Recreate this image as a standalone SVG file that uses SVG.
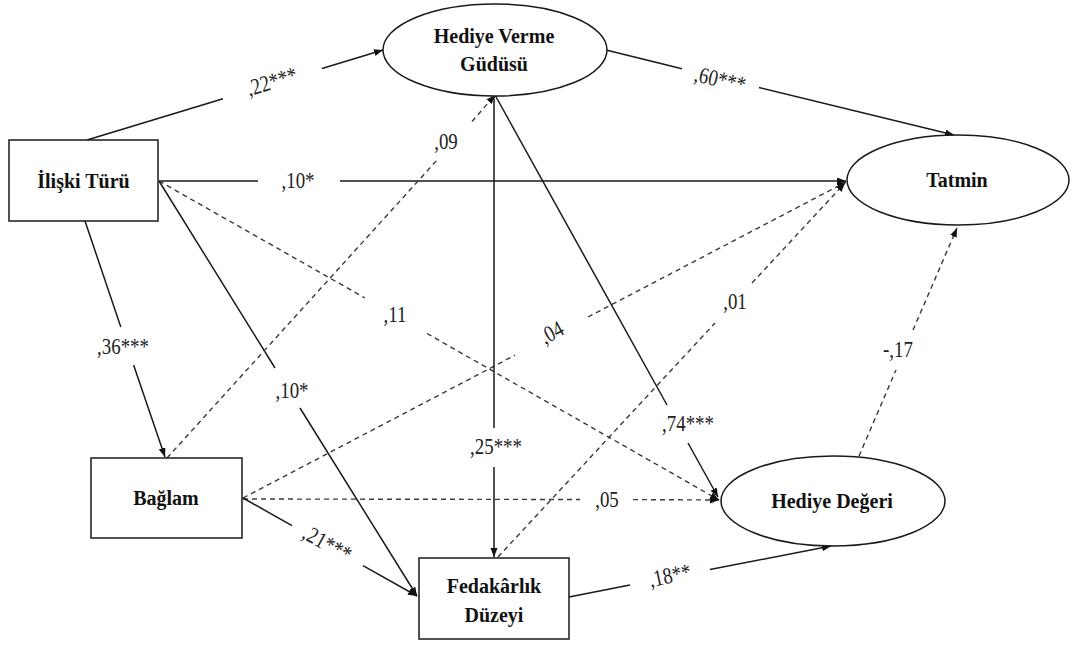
<svg xmlns="http://www.w3.org/2000/svg" width="1072" height="646" viewBox="0 0 1072 646">
  <style>
    .node { fill: #ffffff; stroke: #1a1a1a; stroke-width: 1.5; }
    .ntxt { font-family: "Liberation Serif", "Times New Roman", serif; font-weight: bold; font-size: 20px; fill: #111; text-anchor: middle; }
    .lbl { font-family: "Liberation Serif", "Times New Roman", serif; font-size: 23px; fill: #222; text-anchor: middle; }
    .solid { fill: none; stroke: #1a1a1a; stroke-width: 1.5; marker-end: url(#arrow); }
    .dash { fill: none; stroke: #3a3a3a; stroke-width: 1.4; stroke-dasharray: 5 4; marker-end: url(#arrow); }
  </style>
  <defs>
    <marker id="arrow" markerUnits="userSpaceOnUse" markerWidth="10" markerHeight="8" refX="9" refY="3.5" orient="auto">
      <path d="M0,0 L9,3.5 L0,7 z" fill="#111" stroke="none"/>
    </marker>
  </defs>
  <rect width="1072" height="646" fill="#ffffff"/>

  <!-- paths, each broken where its coefficient sits -->
  <g id="connectors">
    <path class="solid" d="M87,140 L223,98.7 M322,68.5 L383,50"/>
    <path class="solid" d="M159,181 L258,181 M340,181 L846,181"/>
    <path class="dash" d="M159,181 L365,298 M427,333.5 L719,500"/>
    <path class="solid" d="M85,221 L120.8,327 M133.6,365 L165,457"/>
    <path class="solid" d="M159,181 L275,368 M300,408 L417,596"/>
    <path class="dash" d="M167,458 L438,159 M472,121.5 L495,95"/>
    <path class="dash" d="M243,498 L515,355.2 M588,317 L846,182"/>
    <path class="dash" d="M243,499 L580,499.5 M633,499.6 L719,500"/>
    <path class="solid" d="M243,498 L292,525.6 M363,565.6 L417,596"/>
    <path class="solid" d="M494,96 L494,428 M494,467 L494,557"/>
    <path class="solid" d="M495,95 L667,405 M688,443 L718,497"/>
    <path class="solid" d="M606,50 L682,68.8 M759,87.6 L954,135"/>
    <path class="dash" d="M498,557 L715,323 M752,283 L845,183"/>
    <path class="solid" d="M569,597 L630,585 M710,569.5 L831,546"/>
    <path class="dash" d="M859,456 L896,370 M913,330 L957,228"/>
  </g>

  <!-- path coefficients -->
  <g id="labels">
    <text class="lbl" transform="translate(272,82) rotate(-17) scale(0.82,1)" y="7">,22***</text>
    <text class="lbl" transform="translate(298,181) scale(0.82,1)" y="7">,10*</text>
    <text class="lbl" transform="translate(720,80) rotate(13) scale(0.82,1)" y="7">,60***</text>
    <text class="lbl" transform="translate(446,142) scale(0.82,1)" y="7">,09</text>
    <text class="lbl" transform="translate(123,347) scale(0.82,1)" y="7">,36***</text>
    <text class="lbl" transform="translate(292,391) scale(0.82,1)" y="7">,10*</text>
    <text class="lbl" transform="translate(395,315) scale(0.82,1)" y="7">,11</text>
    <text class="lbl" transform="translate(552,333) rotate(-28) scale(0.82,1)" y="7">,04</text>
    <text class="lbl" transform="translate(735,302) scale(0.82,1)" y="7">,01</text>
    <text class="lbl" transform="translate(898,350) scale(0.82,1)" y="7">-,17</text>
    <text class="lbl" transform="translate(496,447) scale(0.82,1)" y="7">,25***</text>
    <text class="lbl" transform="translate(688,424) scale(0.82,1)" y="7">,74***</text>
    <text class="lbl" transform="translate(607,500) scale(0.82,1)" y="7">,05</text>
    <text class="lbl" transform="translate(327,544) rotate(29) scale(0.82,1)" y="7">,21***</text>
    <text class="lbl" transform="translate(670,576) rotate(-12) scale(0.82,1)" y="7">,18**</text>
  </g>

  <g id="iliski-turu">
    <rect class="node" x="9" y="140" width="149" height="81"/>
    <text class="ntxt" x="83.5" y="188">İlişki Türü</text>
  </g>
  <g id="hediye-verme-gudusu">
    <ellipse class="node" cx="495" cy="50" rx="112" ry="46"/>
    <text class="ntxt" x="494" y="43">Hediye Verme</text>
    <text class="ntxt" x="494" y="71">Güdüsü</text>
  </g>
  <g id="tatmin">
    <ellipse class="node" cx="958" cy="180" rx="111" ry="45"/>
    <text class="ntxt" x="957" y="187">Tatmin</text>
  </g>
  <g id="baglam">
    <rect class="node" x="91" y="458" width="151" height="80"/>
    <text class="ntxt" x="166" y="505">Bağlam</text>
  </g>
  <g id="fedakarlik-duzeyi">
    <rect class="node" x="419" y="558" width="150" height="81"/>
    <text class="ntxt" x="494" y="593">Fedakârlık</text>
    <text class="ntxt" x="494" y="622">Düzeyi</text>
  </g>
  <g id="hediye-degeri">
    <ellipse class="node" cx="833" cy="501" rx="112" ry="45"/>
    <text class="ntxt" x="832" y="508">Hediye Değeri</text>
  </g>
</svg>
